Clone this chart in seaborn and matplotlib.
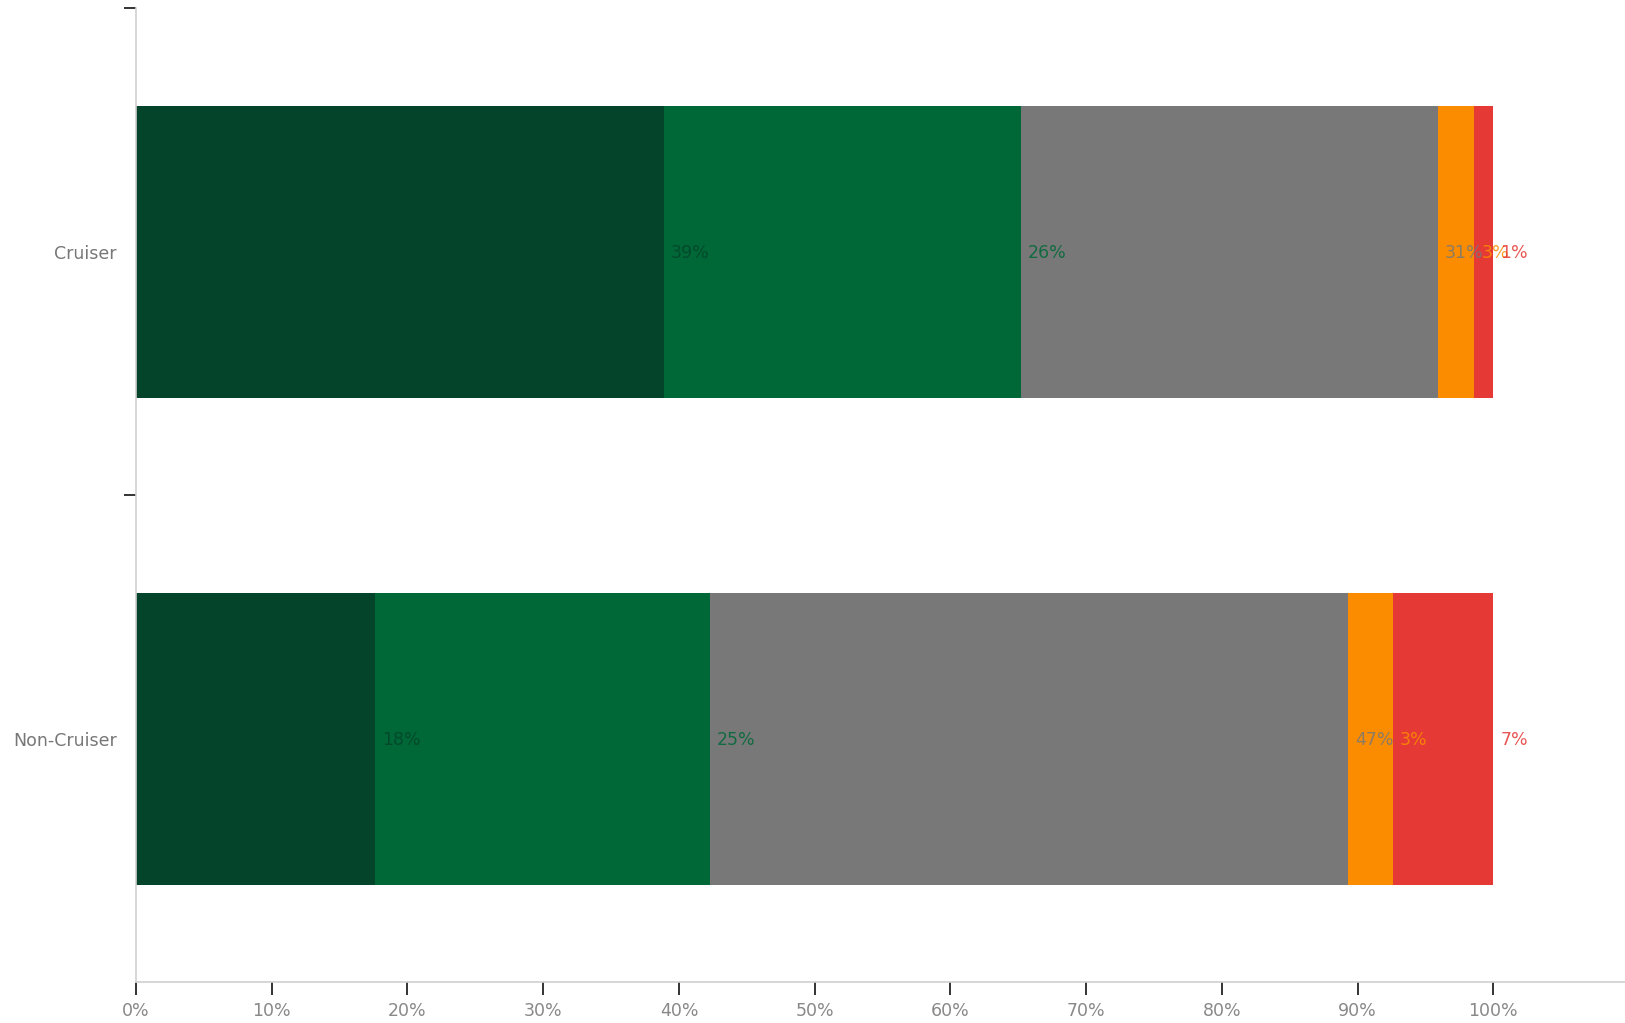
import numpy as np
import pandas as pd
import matplotlib
matplotlib.use("Agg")
import matplotlib.pyplot as plt
import seaborn as sns

# data (shares in percent)
categories = ["Cruiser", "Non-Cruiser"]
segments = ["s1", "s2", "s3", "s4", "s5"]
cruiser_vals = [38.9, 26.3, 30.7, 2.7, 1.4]
non_cruiser_vals = [17.6, 24.7, 47.0, 3.3, 7.4]
seg_colors = ["#03442a", "#006837", "#787878", "#fb8c00", "#e53935"]
x_ticks = [0, 10, 20, 30, 40, 50, 60, 70, 80, 90, 100]


def main():
    sns.set_theme(style="white")
    plt.rcParams["font.family"] = ["DejaVu Sans"]

    vals = np.array([cruiser_vals, non_cruiser_vals])
    cum = vals.cumsum(axis=1)

    fig = plt.figure(figsize=(16.25, 10.23), dpi=100)
    ax = fig.add_axes([0.0837, 0.0396, 1 - 0.0837, 0.9919 - 0.0396])

    # stack by drawing cumulative bars from the outermost segment inwards
    for j in range(len(segments) - 1, -1, -1):
        df = pd.DataFrame({"category": categories, "cum": cum[:, j]})
        sns.barplot(data=df, x="cum", y="category", orient="h",
                    color=seg_colors[j], saturation=1, width=0.6,
                    linewidth=0, ax=ax)

    # value labels at the right end of each segment
    for i in range(len(categories)):
        for j in range(len(segments)):
            ax.annotate(f"{vals[i, j]:.0f}%", xy=(cum[i, j], i),
                        xytext=(5, -1), textcoords="offset points",
                        ha="left", va="center", fontsize=12.5,
                        color=seg_colors[j], alpha=0.85)

    ax.set_xlim(0, 109.7)
    ax.set_ylim(1.5, -0.5)
    ax.set_xticks(x_ticks)
    ax.set_xticklabels([f"{t}%" for t in x_ticks])
    ax.set_xlabel("")
    ax.set_ylabel("")

    ax.set_yticks([0, 1])
    ax.set_yticklabels(categories)
    ax.set_yticks([-0.5, 0.5], minor=True)
    ax.tick_params(axis="y", which="major", length=0, pad=14,
                   labelsize=12.5, labelcolor="#777777")
    ax.tick_params(axis="y", which="minor", length=9, width=1.2,
                   color="#111111", direction="out", left=True)
    ax.tick_params(axis="x", which="major", length=9, width=1.2,
                   color="#111111", direction="out", bottom=True, pad=5,
                   labelsize=12.5, labelcolor="#888888")

    for side in ["top", "right"]:
        ax.spines[side].set_visible(False)
    for side in ["left", "bottom"]:
        ax.spines[side].set_color("#d0d0d0")
        ax.spines[side].set_linewidth(1.2)

    fig.savefig("out.png", dpi=100)
    plt.close(fig)


if __name__ == "__main__":
    main()
